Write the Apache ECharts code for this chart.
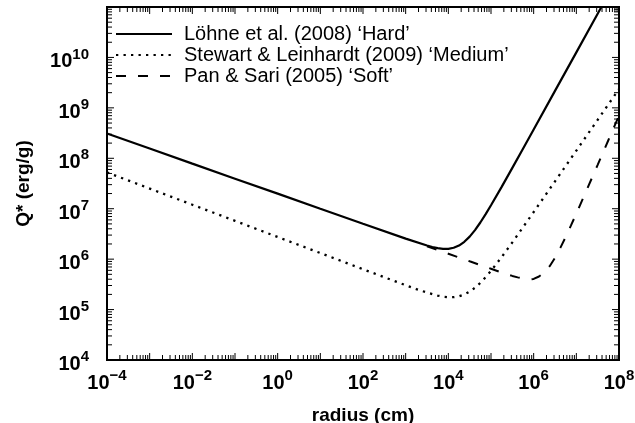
<!DOCTYPE html>
<html>
<head>
<meta charset="utf-8">
<script src="https://cdn.jsdelivr.net/npm/echarts@6/dist/echarts.min.js"></script>
<style>
html,body{margin:0;padding:0;background:#fff;}
#chart{width:635px;height:423px;}
</style>
</head>
<body>
<div id="chart"></div>
<script>
// ---- data ----
const radiusHard = [1e-4, 1e-3, 1e-2, 1e-1, 1, 10, 100, 1000, 3162, 4217, 5623, 7499, 1e4, 13335, 17783, 23714, 31623, 42170, 56234, 74989, 1e5, 177828, 316228, 562341, 1e6, 3162278, 1e7, 31622777, 1e8];
const qHard = [3.09e8, 1.56e8, 7.83e7, 3.94e7, 1.99e7, 1.0e7, 5.04e6, 2.55e6, 1.86e6, 1.74e6, 1.65e6, 1.60e6, 1.60e6, 1.68e6, 1.86e6, 2.21e6, 2.80e6, 3.77e6, 5.33e6, 7.80e6, 1.17e7, 2.71e7, 6.46e7, 1.55e8, 3.73e8, 2.17e9, 1.26e10, 7.36e10, 4.29e11];

const radiusMedium = [1e-4, 1e-3, 1e-2, 1e-1, 1, 10, 100, 1000, 1778, 3162, 5623, 7499, 1e4, 13335, 17783, 23714, 31623, 42170, 56234, 74989, 1e5, 177828, 316228, 562341, 1e6, 3162278, 1e7, 31622777, 1e8];
const qMedium = [5.25e7, 2.51e7, 1.20e7, 5.75e6, 2.75e6, 1.32e6, 6.31e5, 3.04e5, 2.55e5, 2.17e5, 1.89e5, 1.80e5, 1.76e5, 1.76e5, 1.83e5, 1.99e5, 2.27e5, 2.71e5, 3.39e5, 4.40e5, 5.85e5, 1.10e6, 2.15e6, 4.29e6, 8.6e6, 3.49e7, 1.42e8, 5.79e8, 2.36e9];

const radiusSoft = [3162, 1e4, 31623, 1e5, 177828, 316228, 421697, 562341, 749894, 1e6, 1333521, 1778279, 2371374, 3162278, 4216965, 5623413, 7498942, 1e7, 17782794, 31622777, 56234133, 1e8];
const qSoft = [1.80e6, 1.28e6, 9.06e5, 6.44e5, 5.43e5, 4.65e5, 4.35e5, 4.13e5, 3.95e5, 4.05e5, 4.52e5, 5.43e5, 7.24e5, 1.06e6, 1.67e6, 2.75e6, 4.66e6, 8.01e6, 2.43e7, 7.42e7, 2.28e8, 7.0e8];

const seriesNames = ["Löhne et al. (2008) \u2018Hard\u2019", "Stewart & Leinhardt (2009) \u2018Medium\u2019", "Pan & Sari (2005) \u2018Soft\u2019"];

const xLabelExponents = [-4, -2, 0, 2, 4, 6, 8];
const yLabelExponents = [4, 5, 6, 7, 8, 9, 10];
const tickMantissas = [1, 2, 3, 4, 5, 6, 7, 8, 9];
const xTickDecades = [-4, -3, -2, -1, 0, 1, 2, 3, 4, 5, 6, 7];
const yTickDecades = [4, 5, 6, 7, 8, 9, 10];

const X_MIN = 1e-4, X_MAX = 1e8, Y_MIN = 1e4, Y_MAX = 1e11;

// ---- build ----
function pairs(xs, ys) { return xs.map((x, i) => [x, ys[i]]); }
const FONT = "'Liberation Sans', Arial, Helvetica, sans-serif";

const xTicks = [];
xTickDecades.forEach(d => tickMantissas.forEach(m => {
  const v = m * Math.pow(10, d);
  if (v > X_MIN * 1.01 && v < X_MAX * 0.99) xTicks.push([v, 1e5, m === 1 ? 1 : 0]);
}));
const yTicks = [];
yTickDecades.forEach(d => tickMantissas.forEach(m => {
  const v = m * Math.pow(10, d);
  if (v > Y_MIN * 1.01 && v < Y_MAX * 0.99) yTicks.push([1, v, m === 1 ? 1 : 0]);
}));

const MAJOR = 7, MINOR = 5;

function supLabel(value, list) {
  const e = Math.round(Math.log10(value));
  if (list.indexOf(e) < 0) return '';
  const s = e < 0 ? '\u2212' + (-e) : String(e);
  return '{b|10}{s|' + s + '}';
}
const rich = {
  b: { fontSize: 20, fontWeight: 'bold', fontFamily: FONT, color: '#000', verticalAlign: 'bottom' },
  s: { fontSize: 15, fontWeight: 'bold', fontFamily: FONT, color: '#000', padding: [0, 0, 10, 0], verticalAlign: 'top' }
};

function tickLine(x1, y1, x2, y2) {
  return { type: 'line', shape: { x1: x1, y1: y1, x2: x2, y2: y2 }, style: { stroke: '#000', lineWidth: 1 } };
}

const chart = echarts.init(document.getElementById('chart'));
chart.setOption({
  animation: false,
  backgroundColor: '#fff',
  grid: { left: 107, right: 16, top: 7, bottom: 63, containLabel: false, outerBoundsMode: 'none', show: true, borderColor: '#000', borderWidth: 2, backgroundColor: 'transparent' },
  legend: {
    orient: 'vertical', left: 115, top: 24, padding: 0,
    itemWidth: 56, itemHeight: 14, itemGap: 1,
    itemStyle: { opacity: 0 },
    textStyle: { fontSize: 20, fontFamily: FONT, color: '#000', lineHeight: 20, padding: [0, 0, 0, 7] },
    data: seriesNames
  },
  xAxis: {
    type: 'log', logBase: 10, min: X_MIN, max: X_MAX, interval: 2,
    name: 'radius (cm)', nameLocation: 'middle', nameGap: 46,
    nameTextStyle: { fontSize: 19, fontWeight: 'bold', fontFamily: FONT, color: '#000' },
    axisLine: { show: true, lineStyle: { color: '#000', width: 2 } },
    axisTick: { show: false }, minorTick: { show: false },
    splitLine: { show: false },
    axisLabel: { margin: 8, interval: 0, hideOverlap: false, formatter: v => supLabel(v, xLabelExponents), rich: rich, showMinLabel: true, showMaxLabel: true }
  },
  yAxis: {
    type: 'log', logBase: 10, min: Y_MIN, max: Y_MAX, interval: 1,
    name: 'Q* (erg/g)', nameLocation: 'middle', nameGap: 74, nameRotate: 90,
    nameTextStyle: { fontSize: 19, fontWeight: 'bold', fontFamily: FONT, color: '#000' },
    axisLine: { show: true, lineStyle: { color: '#000', width: 2 } },
    axisTick: { show: false }, minorTick: { show: false },
    splitLine: { show: false },
    axisLabel: { margin: 18, interval: 0, padding: [4, 0, 0, 0], formatter: v => supLabel(v, yLabelExponents), rich: rich }
  },
  series: [
    {
      name: seriesNames[1], type: 'line', data: pairs(radiusMedium, qMedium),
      symbol: 'none', showSymbol: false, z: 3,
      lineStyle: { color: '#000', width: 2.3, type: [2.3, 5.2], cap: 'butt' },
      itemStyle: { color: '#000' }
    },
    {
      name: seriesNames[2], type: 'line', data: pairs(radiusSoft, qSoft),
      symbol: 'none', showSymbol: false, z: 2,
      lineStyle: { color: '#000', width: 2, type: [10, 12], cap: 'butt' },
      itemStyle: { color: '#000' }
    },
    {
      name: seriesNames[0], type: 'line', data: pairs(radiusHard, qHard),
      symbol: 'none', showSymbol: false, z: 4,
      lineStyle: { color: '#000', width: 2.2, type: 'solid' },
      itemStyle: { color: '#000' }
    },
    {
      type: 'custom', silent: true, clip: false, z: 6,
      dimensions: ['x', 'y', 'major'],
      encode: { x: 0, y: 1 },
      data: xTicks,
      renderItem: function (params, api) {
        const x = api.coord([api.value(0), 1e5])[0];
        const b = api.coord([X_MIN, Y_MIN])[1];
        const t = api.coord([X_MIN, Y_MAX])[1];
        const len = api.value(2) === 1 ? MAJOR : MINOR;
        return { type: 'group', children: [tickLine(x, b, x, b - len), tickLine(x, t, x, t + len)] };
      }
    },
    {
      type: 'custom', silent: true, clip: false, z: 6,
      dimensions: ['x', 'y', 'major'],
      encode: { x: 0, y: 1 },
      data: yTicks,
      renderItem: function (params, api) {
        const y = api.coord([1, api.value(1)])[1];
        const l = api.coord([X_MIN, Y_MIN])[0];
        const r = api.coord([X_MAX, Y_MIN])[0];
        const len = api.value(2) === 1 ? MAJOR : MINOR;
        return { type: 'group', children: [tickLine(l, y, l + len, y), tickLine(r, y, r - len, y)] };
      }
    }
  ]
});
</script>
</body>
</html>
